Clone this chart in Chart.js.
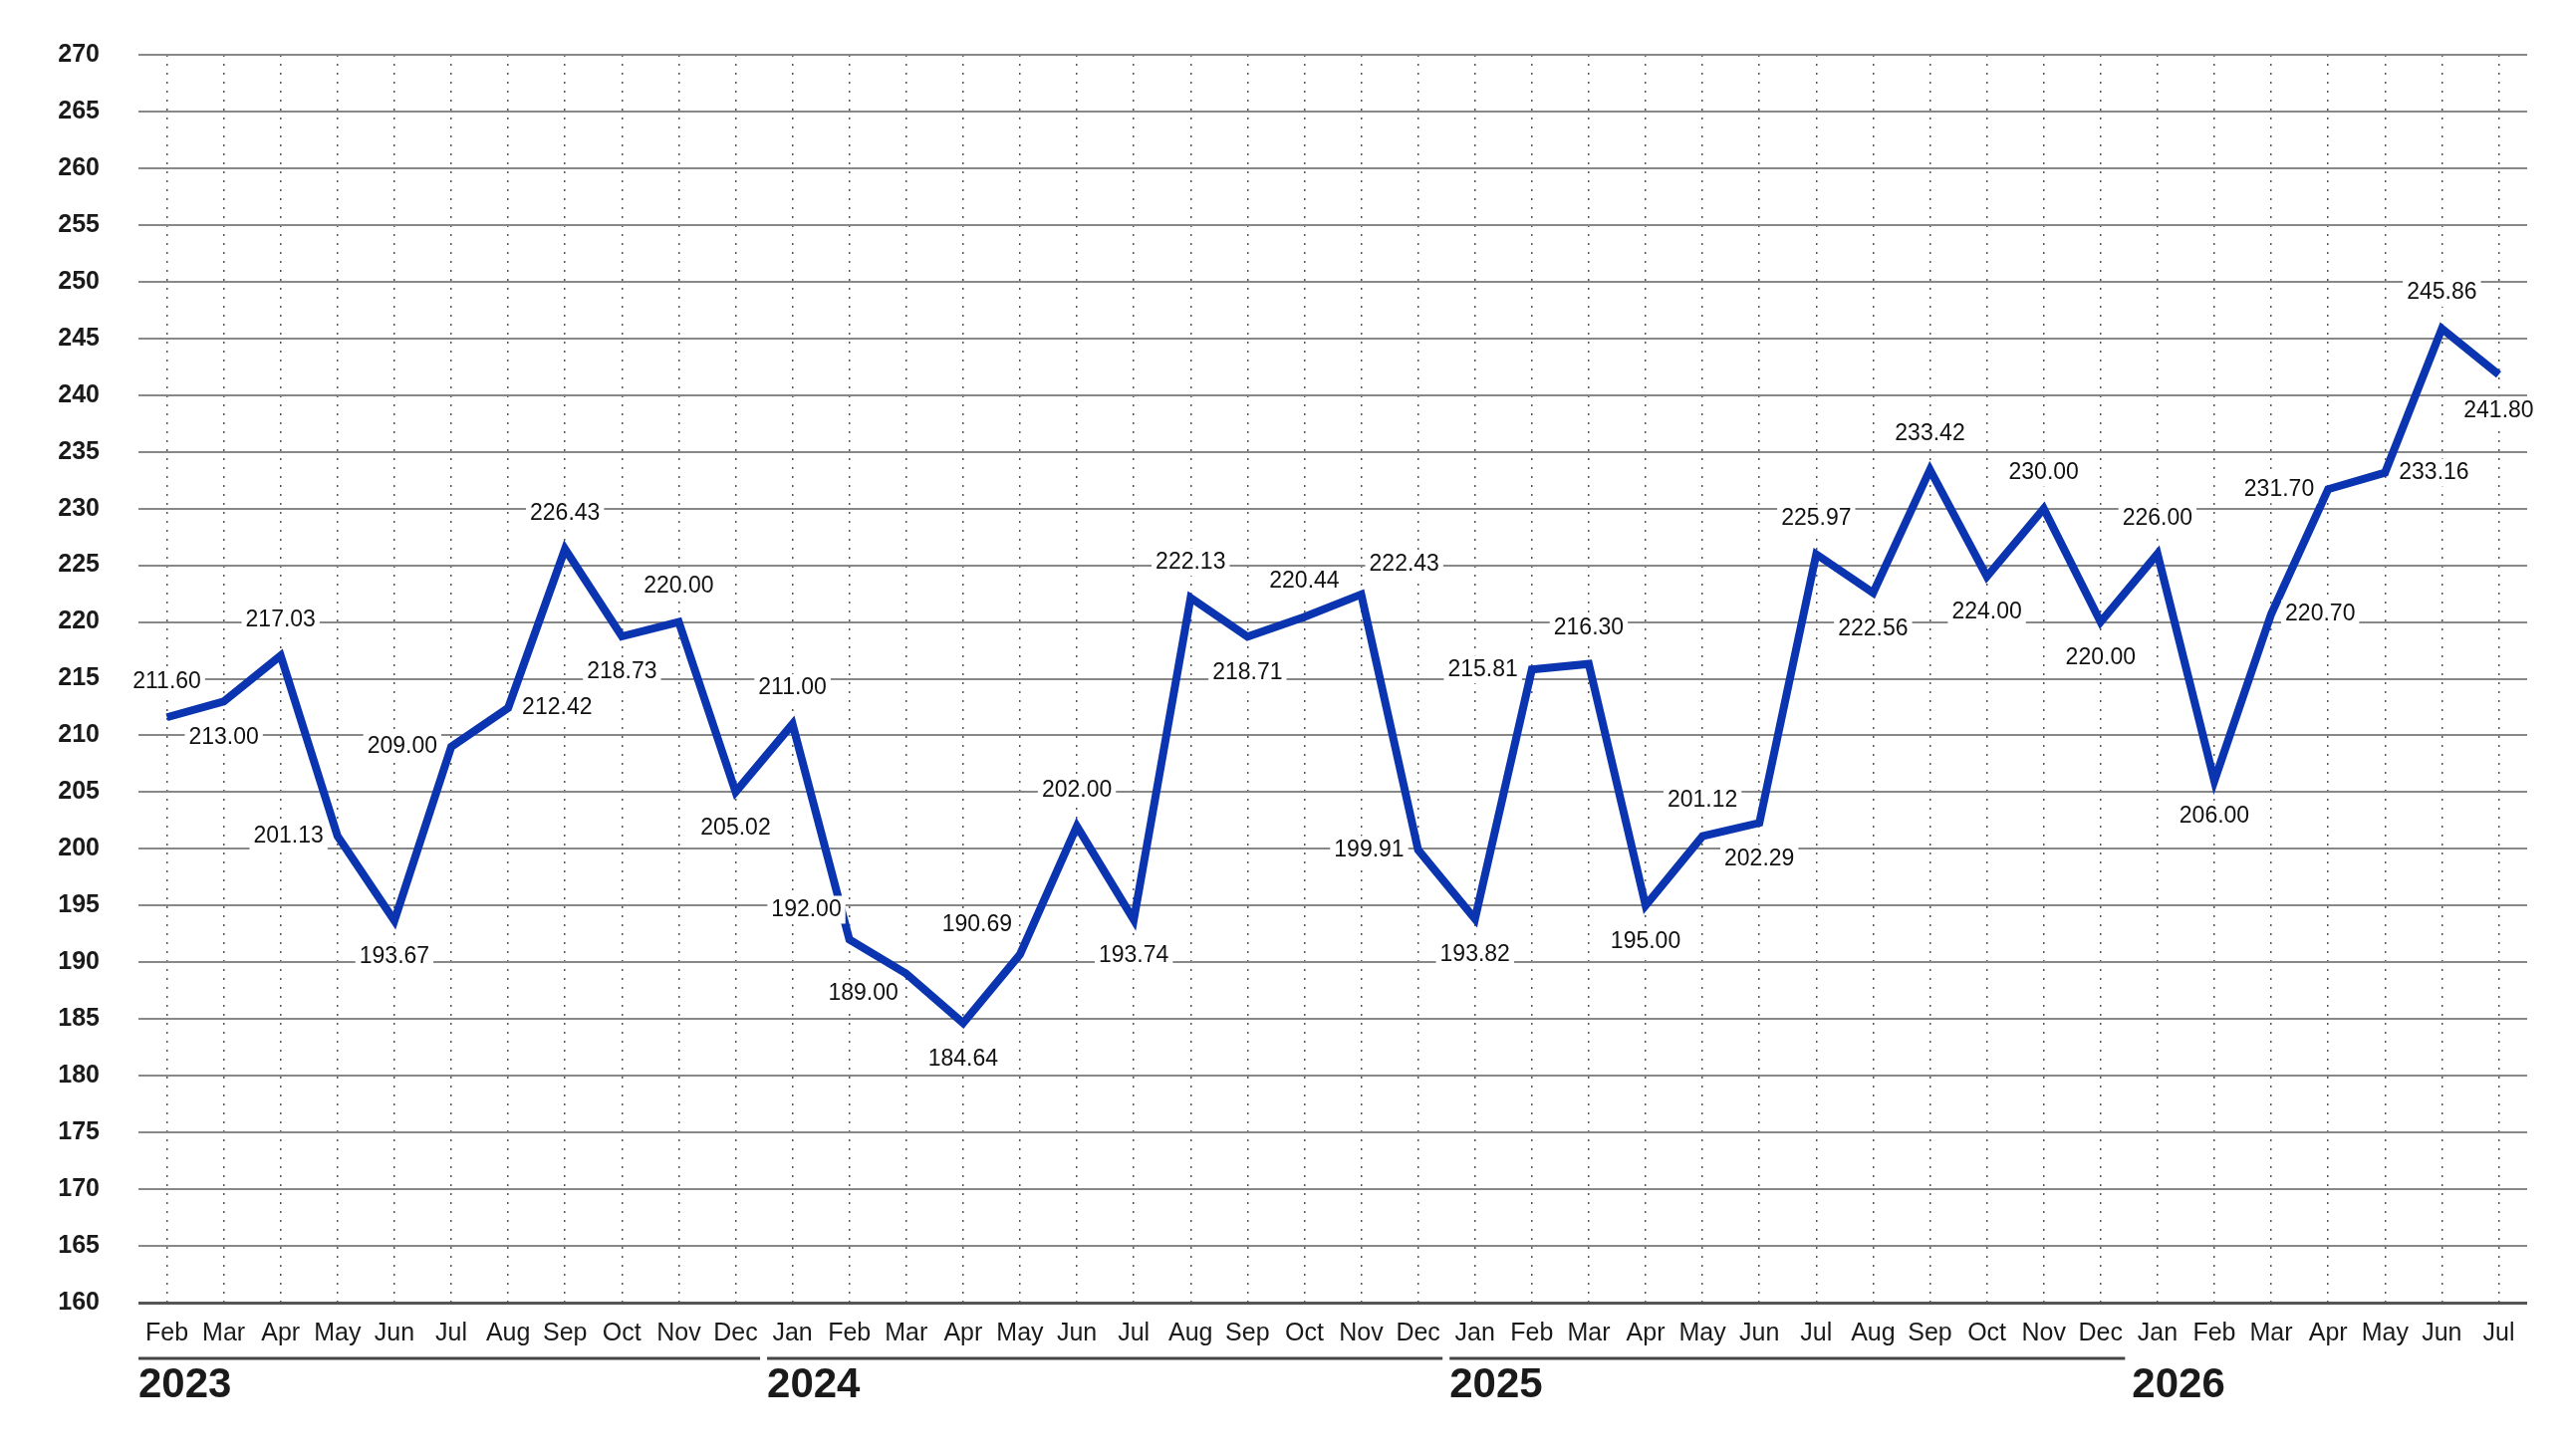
<!DOCTYPE html>
<html><head><meta charset="utf-8">
<script src="https://cdn.jsdelivr.net/npm/chart.js@4"></script>
<style>html,body{margin:0;padding:0;background:#fff}#w{width:2577px;height:1462px}</style>
</head><body><div id="w"><canvas id="c" width="2577" height="1462"></canvas></div>
<script>
const months = ["Feb","Mar","Apr","May","Jun","Jul","Aug","Sep","Oct","Nov","Dec",
 "Jan","Feb","Mar","Apr","May","Jun","Jul","Aug","Sep","Oct","Nov","Dec",
 "Jan","Feb","Mar","Apr","May","Jun","Jul","Aug","Sep","Oct","Nov","Dec",
 "Jan","Feb","Mar","Apr","May","Jun","Jul"];
const values = [211.60,213.00,217.03,201.13,193.67,209.00,212.42,226.43,218.73,220.00,205.02,
 211.00,192.00,189.00,184.64,190.69,202.00,193.74,222.13,218.71,220.44,222.43,199.91,
 193.82,215.81,216.30,195.00,201.12,202.29,225.97,222.56,233.42,224.00,230.00,220.00,
 226.00,206.00,220.70,231.70,233.16,245.86,241.80];
const labelPos = ["a","b","a","l","b","l","r","a","b","a","b",
 "a","al","bl","b","al","a","b","a","b","a","ar","l",
 "b","l","a","b","a","b","a","b","a","b","a","b",
 "a","b","r","l","r","a","b"];
const years = ["2023","2024","2025","2026"];
const yearStart = [0,11,23,35];
const yearEnd = [10,22,34,41];
const yearLine = [true,true,true,false];

const FONT = "'Liberation Sans', Arial, sans-serif";
const labelsPlugin = {
  id:'lbl',
  afterDatasetsDraw(chart){
    const ctx = chart.ctx, meta = chart.getDatasetMeta(0);
    ctx.save();
    ctx.font = "23px " + FONT;
    ctx.textAlign = "center"; ctx.textBaseline = "middle";
    meta.data.forEach((pt,i)=>{
      const t = values[i].toFixed(2);
      const w = ctx.measureText(t).width;
      let x = pt.x, y = pt.y;
      const p = labelPos[i];
      if (p==="a") y -= 36;
      else if (p==="b") y += 36;
      else if (p==="l") x -= w/2+14;
      else if (p==="r") x += w/2+14;
      else if (p==="al") { x -= w/2+8; y -= 30; }
      else if (p==="bl") { x -= w/2+8; y += 20; }
      else if (p==="ar") { x += w/2+8; y -= 30; }
      ctx.fillStyle = "#fff";
      ctx.fillRect(x-w/2-4, y-14, w+8, 28);
      ctx.fillStyle = "#111";
      ctx.fillText(t, x, y);
    });
    // years
    const xs = chart.scales.x, half = (xs.getPixelForValue(1)-xs.getPixelForValue(0))/2;
    ctx.textAlign = "left"; ctx.textBaseline = "alphabetic";
    years.forEach((yr,k)=>{
      const x0 = xs.getPixelForValue(yearStart[k]) - half + (k?3:0);
      const x1 = xs.getPixelForValue(yearEnd[k]) + half - 4;
      if (yearLine[k]) {
        ctx.strokeStyle = "#444"; ctx.lineWidth = 3;
        ctx.beginPath(); ctx.moveTo(x0,1364); ctx.lineTo(x1,1364); ctx.stroke();
      }
      ctx.fillStyle = "#1a1a1a";
      ctx.font = "bold 42px " + FONT;
      ctx.fillText(yr, x0, 1403);
    });
    ctx.restore();
  }
};

new Chart(document.getElementById('c'), {
  type:'line',
  data:{labels:months, datasets:[{data:values, borderColor:'#0a34b0', borderWidth:8,
    pointRadius:0, tension:0, fill:false, borderJoinStyle:'miter'}]},
  options:{
    responsive:false, animation:false, devicePixelRatio:1,
    layout:{padding:{top:55,right:40,left:0,bottom:0}},
    plugins:{legend:{display:false},tooltip:{enabled:false}},
    scales:{
      x:{offset:true,
        grid:{color:'#555',lineWidth:1.5,drawTicks:false},
        border:{display:false,dash:[2,7]},
        ticks:{color:'#1a1a1a',font:{size:25,family:FONT},padding:16,maxRotation:0,autoSkip:false},
        afterFit(s){s.height=154;}
      },
      y:{min:160,max:270,
        grid:{color:(c)=>c.tick && c.tick.value===160?'#555':'#888',lineWidth:(c)=>c.tick && c.tick.value===160?3:2,drawTicks:false},
        border:{display:false},
        ticks:{stepSize:5,color:'#1a1a1a',font:{size:25,family:FONT,weight:'bold'},padding:39},
        afterFit(s){s.width=139;}
      }
    }
  },
  plugins:[labelsPlugin]
});
</script></body></html>
